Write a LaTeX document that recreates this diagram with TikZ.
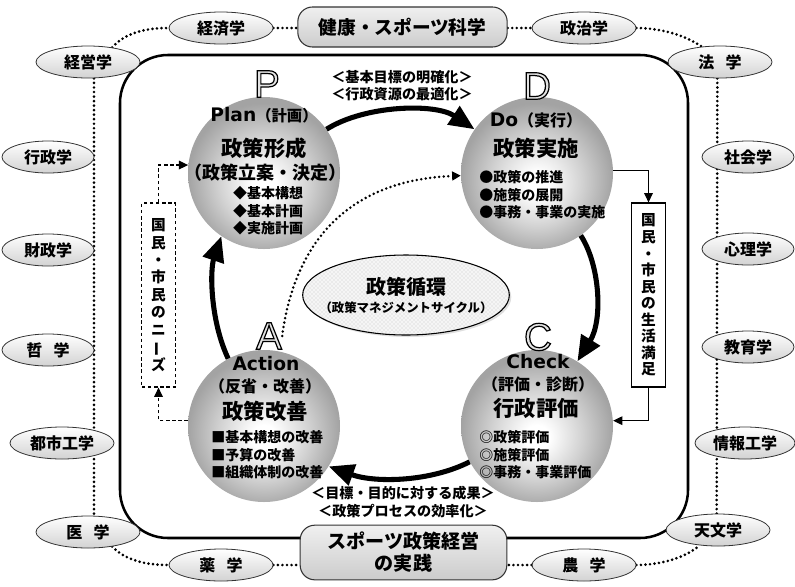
\documentclass[tikz,border=0pt]{standalone}
\usepackage{fontspec}
\setmainfont{Noto Sans CJK JP}
\newfontfamily\heavyfont{DejaVu Sans}
\newfontfamily\letterfont{Liberation Sans}
\usepackage{graphicx}
\usetikzlibrary{arrows.meta,shapes.geometric,backgrounds,patterns,shadows}
\definecolor{discedge}{gray}{0.64}
\definecolor{discmid}{gray}{0.82}
\pgfdeclareradialshading{discshade}{\pgfpoint{0bp}{-4bp}}{color(0bp)=(white);color(4bp)=(white);color(15bp)=(discmid);color(25bp)=(discedge);color(50bp)=(discedge)}
\newcommand\cycleletter[1]{{\letterfont\fontsize{29}{29}\selectfont\textcolor{gray!22}{\special{pdf:literal direct 2 Tr 0.9 w 0 G}#1\special{pdf:literal direct 0 Tr}}}}
\tikzset{
  disc/.style={circle, minimum size=114pt, inner sep=0pt, shading=discshade},
  sci/.style={ellipse, draw=black!80, line width=0.6pt, top color=white, bottom color=gray!35,
    minimum width=78pt, minimum height=24pt, inner sep=0pt, font=\bfseries\fontsize{12}{14}\selectfont},
  sidesci/.style={sci, minimum width=69pt},
  fieldbox/.style={rectangle, rounded corners=11pt, draw=black!80, line width=0.8pt, top color=gray!12,
    bottom color=gray!40, inner sep=0pt, align=center, font=\bfseries\fontsize{14}{16.5}\selectfont},
  dotlink/.style={line width=2.2pt, dash pattern=on 0pt off 3.4pt, line cap=round, black},
  cyclearrow/.style={line width=3.8pt, -{Triangle[length=19pt,width=16pt]}},
  fbarrow/.style={line width=0.9pt, -{Triangle[length=7pt,width=6.5pt]}},
  dashline/.style={dash pattern=on 2.6pt off 2pt},
  needbox/.style={rectangle, draw, fill=white, line width=0.9pt, minimum width=25pt, minimum height=138pt,
    inner sep=0pt, align=center},
  lettertxt/.style={inner sep=0pt},
  ttl/.style={inner sep=0pt, font=\bfseries\fontsize{16}{18}\selectfont},
  sub/.style={inner sep=0pt, font=\bfseries\fontsize{12}{14}\selectfont},
  latin/.style={inner sep=0pt, font=\heavyfont\bfseries\fontsize{14}{16}\selectfont},
  itemtxt/.style={inner sep=0pt, align=left, font=\bfseries\fontsize{10.5}{13.1}\selectfont},
  lbl/.style={inner sep=0pt, align=center, font=\bfseries\fontsize{10.6}{12.8}\selectfont},
}
\begin{document}
\begin{tikzpicture}[x=0.75pt,y=-0.75pt]
\useasboundingbox (0,0) rectangle (795,586);
% inner frame
\draw[line width=1.9pt, rounded corners=36pt] (120,55) rectangle (688,538);
% field boxes
\node[fieldbox, minimum width=157pt, minimum height=30pt] (topbox) at (402.5,27) {健康・スポーツ科学};
\node[fieldbox, minimum width=155pt, minimum height=41pt, font=\bfseries\fontsize{14.3}{16.5}\selectfont] (botbox) at (403.5,552.5) {スポーツ政策経営\\の実践};
% sciences
\node[sci] (keizai) at (221,28) {経済学};
\node[sci] (seiji) at (584,28) {政治学};
\node[sci] (keiei) at (88,62) {経営学};
\node[sci] (hou) at (720,62) {法\hspace{0.7em}学};
\node[sidesci] (gyosei) at (48,157) {行政学};
\node[sidesci] (zaisei) at (48,250) {財政学};
\node[sidesci] (tetsu) at (48,350) {哲\hspace{0.7em}学};
\node[sci] (toshi) at (62,443) {都市工学};
\node[sidesci] (shakai) at (748,157) {社会学};
\node[sidesci] (shinri) at (748,249) {心理学};
\node[sidesci] (kyoiku) at (748,347) {教育学};
\node[sci, minimum width=75pt] (joho) at (745,443) {情報工学};
\node[sci] (iryo) at (88,532) {医\hspace{0.7em}学};
\node[sci] (tenmon) at (718,530) {天文学};
\node[sci] (yaku) at (221,565) {薬\hspace{0.7em}学};
\node[sci] (nou) at (584,565) {農\hspace{0.7em}学};
\begin{scope}[on background layer]
\draw[dotlink] (keiei.31) .. controls (125,33) and (145,28) .. (keizai.west);
\draw[dotlink] (keizai.east) -- (topbox.west |- keizai.east);
\draw[dotlink] (topbox.east |- seiji.west) -- (seiji.west);
\draw[dotlink] (seiji.east) .. controls (660,28) and (685,35) .. (hou.140);
\draw[dotlink] ([xshift=4.5pt]keiei.south) -- ([xshift=4.5pt]iryo.north);
\draw[dotlink] ([xshift=-2pt]hou.south) -- ([xshift=-1pt]tenmon.north);
\draw[dotlink] (iryo.-31) .. controls (125,560) and (145,565) .. (yaku.west);
\draw[dotlink] (yaku.east) -- (yaku.east -| botbox.west);
\draw[dotlink] (nou.west) -- (nou.west -| botbox.east);
\draw[dotlink] (nou.east) .. controls (660,565) and (685,558) .. (tenmon.220);
\end{scope}
% cycle discs
\node[disc] (P) at (264,173) {};
\node[disc] (D) at (537,173) {};
\node[disc] (A) at (264,426) {};
\node[disc] (C) at (537,426) {};
\node[lettertxt] (Pl) at (267,84) {\cycleletter{P}};
\node[lettertxt] (Dl) at (537,86) {\cycleletter{D}};
\node[lettertxt] (Al) at (269,336) {\cycleletter{A}};
\node[lettertxt] (Cl) at (538,337) {\cycleletter{C}};
% center ellipse
\node[ellipse, draw, line width=0.8pt, minimum width=155pt, minimum height=60pt,
  preaction={fill=gray!8, drop shadow={opacity=0.25, shadow xshift=1.5pt, shadow yshift=-1.5pt}},
  pattern=crosshatch dots, pattern color=gray!45] (cyc) at (406,295) {};
\node[inner sep=0pt, font=\bfseries\fontsize{15}{17}\selectfont] (cyc1) at (406,287) {政策循環};
\node[inner sep=0pt, font=\bfseries\fontsize{9.3}{11}\selectfont] (cyc2) at (406,308) {（政策マネジメントサイクル）};
% P texts
\node[inner sep=0pt] (Pt1) at (264,115) {{\heavyfont\bfseries\fontsize{14}{16}\selectfont Plan}{\bfseries\fontsize{11.5}{14}\selectfont （計画）}};
\node[ttl] (Pt2) at (264,148) {政策形成};
\node[sub, font=\bfseries\fontsize{13.5}{15}\selectfont] (Pt3) at (265,173) {（政策立案・決定）};
\node[itemtxt] (Pt4) at (268,211) {◆基本構想\\◆基本計画\\◆実施計画};
% D texts
\node[inner sep=0pt] (Dt1) at (536,120) {{\heavyfont\bfseries\fontsize{14}{16}\selectfont Do}{\bfseries\fontsize{12}{14}\selectfont （実行）}};
\node[ttl] (Dt2) at (536,148) {政策実施};
\node[itemtxt, anchor=west] (Dt3) at (479,195) {●政策の推進\\●施策の展開\\●事務・事業の実施};
% A texts
\node[latin] (At1) at (266,364) {Action};
\node[sub] (At2) at (265,386) {（反省・改善）};
\node[ttl] (At3) at (265,411) {政策改善};
\node[itemtxt, anchor=west] (At4) at (211,455) {■基本構想の改善\\■予算の改善\\■組織体制の改善};
% C texts
\node[latin] (Ct1) at (538,362) {Check};
\node[sub] (Ct2) at (538,384) {（評価・診断）};
\node[ttl] (Ct3) at (536,408) {行政評価};
\node[itemtxt, anchor=west] (Ct4) at (479,455) {◎政策評価\\◎施策評価\\◎事務・事業評価};
% labels
\node[lbl] (goal1) at (402,86) {＜基本目標の明確化＞\\＜行政資源の最適化＞};
\node[lbl] (goal2) at (403,502) {＜目標・目的に対する成果＞\\＜政策プロセスの効率化＞};
% cycle arrows
\draw[cyclearrow] (P.35) .. controls (365,105) and (435,103) .. (D.145);
\draw[cyclearrow] (D.-55) .. controls (600,265) and (603,320) .. (C.58);
\draw[cyclearrow] (C.208) .. controls (430,482) and (375,483) .. (A.-32);
\draw[cyclearrow] (A.118) .. controls (210,320) and (210,270) .. (P.236);
\draw[line width=2.1pt, dash pattern=on 0pt off 3.4pt, line cap=round, -{Triangle[length=6.5pt,width=6.5pt]}]
  (Al.east) .. controls (295,240) and (350,180) .. (D.182);
% feedback boxes
\node[needbox, font=\bfseries\fontsize{11}{12.4}\selectfont] (satis) at (648.5,295) {国\\民\\・\\市\\民\\の\\生\\活\\満\\足};
\node[needbox, dashline, font=\bfseries\fontsize{11}{13.1}\selectfont] (needs) at (158.5,295) {国\\民\\・\\市\\民\\の\\ニ\\\rotatebox[origin=c]{90}{ー}\\ズ};
\draw[fbarrow] (D.2) -| (satis.north);
\draw[fbarrow] (satis.south) |- (C.4);
\draw[fbarrow, dashline] (A.176) -| (needs.south);
\draw[fbarrow, dashline] (needs.north) |- (P.174);
\end{tikzpicture}
\end{document}
